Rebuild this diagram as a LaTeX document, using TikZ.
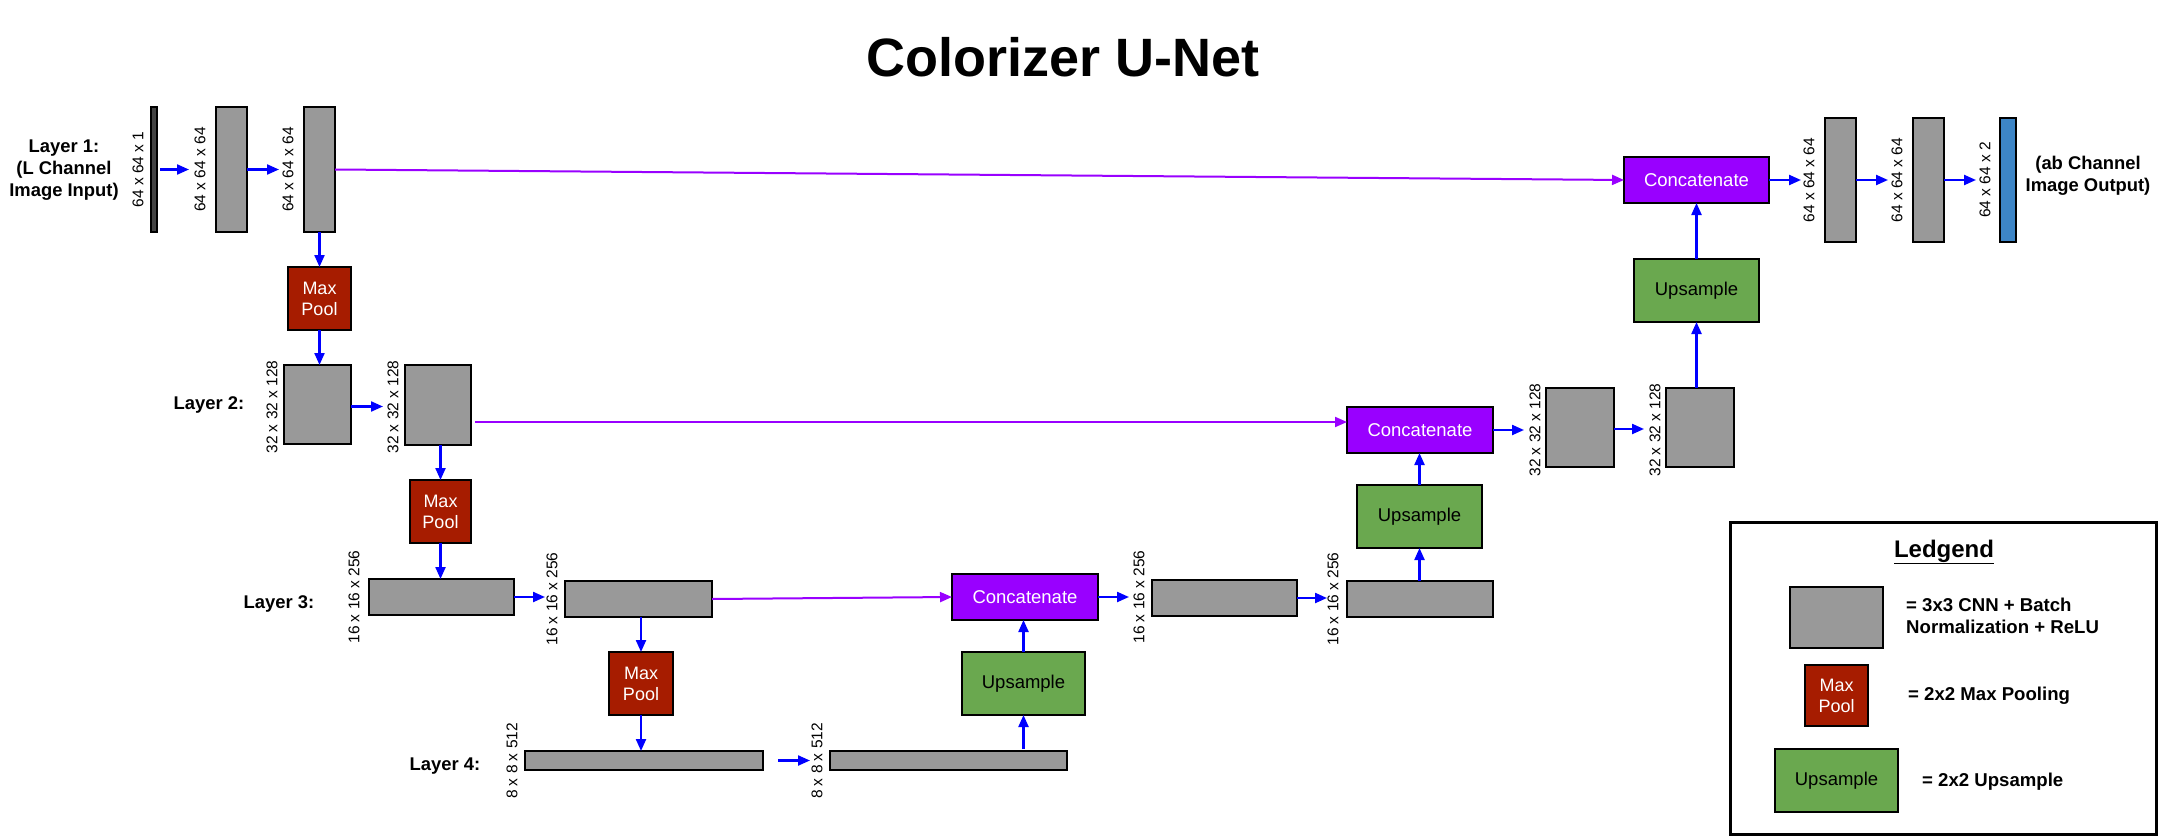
\documentclass[tikz,border=0pt]{standalone}
\usepackage{fontspec}
\setmainfont{Liberation Sans}
\usetikzlibrary{arrows.meta}
\definecolor{cnngray}{HTML}{999999}
\definecolor{inbar}{HTML}{434343}
\definecolor{outbar}{HTML}{3D85C6}
\definecolor{poolred}{HTML}{A61C00}
\definecolor{catpurple}{HTML}{9900FF}
\definecolor{upgreen}{HTML}{6AA84F}
\definecolor{arrblue}{HTML}{0000FF}
\begin{document}
\begin{tikzpicture}[x=1pt,y=-1pt,
  blk/.style={draw=black, line width=1.3pt, inner sep=0pt, outer sep=0pt},
  cnn/.style={blk, fill=cnngray},
  poolbox/.style={blk, fill=poolred, text=white, align=center, font=\fontsize{18}{21}\selectfont, minimum width=63pt, minimum height=63pt},
  catbox/.style={blk, fill=catpurple, text=white, font=\fontsize{18.5}{22}\selectfont, minimum width=146pt, minimum height=46pt},
  upbox/.style={blk, fill=upgreen, text=black, font=\fontsize{18.5}{22}\selectfont, minimum width=124pt, minimum height=63pt},
  dimlabel/.style={rotate=90, inner sep=0pt, font=\fontsize{15.5}{18}\selectfont},
  laylabel/.style={font=\bfseries\fontsize{18.4}{21.7}\selectfont, inner sep=0pt, align=center},
  legtext/.style={font=\bfseries\fontsize{18.6}{22.3}\selectfont, inner sep=0pt, align=left},
  flowarrow/.style={draw=arrblue, line width=2.2pt, -{Triangle[length=12pt,width=10pt]}},
  skipline/.style={draw=catpurple, line width=2pt, -{Triangle[length=12pt,width=10pt]}},
]
\useasboundingbox[fill=white] (0,0) rectangle (2159,837);

% title
\node[anchor=base, inner sep=0pt, font=\bfseries\fontsize{54}{60}\selectfont] (title) at (1063,77) {Colorizer U-Net};

% layer labels
\node[laylabel] (lay1) at (64,170) {Layer 1:\\(L Channel\\Image Input)};
\node[laylabel, anchor=base] (lay2) at (209,409) {Layer 2:};
\node[laylabel, anchor=base] (lay3) at (279,608) {Layer 3:};
\node[laylabel, anchor=base] (lay4) at (445,770) {Layer 4:};
\node[laylabel] (outlab) at (2088,176) {(ab Channel\\Image Output)};

% layer 1 (left)
\node[blk, fill=inbar, minimum width=6pt, minimum height=125pt] (in) at (154,169.5) {};
\node[cnn, minimum width=31pt, minimum height=125pt] (b1) at (231.5,169.5) {};
\node[cnn, minimum width=31pt, minimum height=125pt] (b2) at (319.5,169.5) {};
\node[poolbox] (mp1) at (319.5,298.5) {Max\\Pool};

% layer 2 (left)
\node[cnn, minimum width=67pt, minimum height=79pt] (l2a) at (317.5,404.5) {};
\node[cnn, minimum width=66pt, minimum height=80pt] (l2b) at (438,405) {};
\node[poolbox, minimum width=61pt] (mp2) at (440.5,511.5) {Max\\Pool};

% layer 3 (left)
\node[cnn, minimum width=145pt, minimum height=36pt] (l3a) at (441.5,597) {};
\node[cnn, minimum width=147pt, minimum height=36pt] (l3b) at (638.5,599) {};
\node[poolbox, minimum width=64pt] (mp3) at (641,683.5) {Max\\Pool};

% layer 4
\node[cnn, minimum width=238pt, minimum height=19pt] (l4a) at (644,760.5) {};
\node[cnn, minimum width=237pt, minimum height=19pt] (l4b) at (948.5,760.5) {};

% layer 3 (right)
\node[upbox, minimum width=123pt] (up3) at (1023.5,683.5) {Upsample};
\node[catbox] (cat3) at (1025,597) {Concatenate};
\node[cnn, minimum width=145pt, minimum height=36pt] (r3a) at (1224.5,598) {};
\node[cnn, minimum width=146pt, minimum height=36pt] (r3b) at (1420,599) {};

% layer 2 (right)
\node[upbox, minimum width=125pt] (up2) at (1419.5,516.5) {Upsample};
\node[catbox] (cat2) at (1420,430) {Concatenate};
\node[cnn, minimum width=68pt, minimum height=79pt] (r2a) at (1580,427.5) {};
\node[cnn, minimum width=68pt, minimum height=79pt] (r2b) at (1700,427.5) {};

% layer 1 (right)
\node[upbox, minimum width=125pt] (up1) at (1696.5,290.5) {Upsample};
\node[catbox, minimum width=145pt] (cat1) at (1696.5,180) {Concatenate};
\node[cnn, minimum width=31pt, minimum height=124pt] (r1a) at (1840.5,180) {};
\node[cnn, minimum width=31pt, minimum height=124pt] (r1b) at (1928.5,180) {};
\node[blk, fill=outbar, minimum width=16pt, minimum height=124pt] (out) at (2008,180) {};

% dimension labels
\node[dimlabel] (d-in) at (138,169.5) {64 x 64 x 1};
\node[dimlabel] (d-b1) at (200,169.5) {64 x 64 x 64};
\node[dimlabel] (d-b2) at (288,169.5) {64 x 64 x 64};
\node[dimlabel] (d-l2a) at (272,407) {32 x 32 x 128};
\node[dimlabel] (d-l2b) at (393,407) {32 x 32 x 128};
\node[dimlabel] (d-l3a) at (354,597) {16 x 16 x 256};
\node[dimlabel] (d-l3b) at (552,599) {16 x 16 x 256};
\node[dimlabel] (d-l4a) at (512,761) {8 x 8 x 512};
\node[dimlabel] (d-l4b) at (817,761) {8 x 8 x 512};
\node[dimlabel] (d-r3a) at (1139,597) {16 x 16 x 256};
\node[dimlabel] (d-r3b) at (1333,599) {16 x 16 x 256};
\node[dimlabel] (d-r2a) at (1535,430) {32 x 32 x 128};
\node[dimlabel] (d-r2b) at (1655,430) {32 x 32 x 128};
\node[dimlabel] (d-r1a) at (1809,180) {64 x 64 x 64};
\node[dimlabel] (d-r1b) at (1897,180) {64 x 64 x 64};
\node[dimlabel] (d-out) at (1985,180) {64 x 64 x 2};

% blue flow arrows: horizontal
\draw[flowarrow, shorten <=3pt, shorten >=27pt] (in.east) -- (in.east -| b1.west);
\draw[flowarrow, shorten >=25pt] (b1.east) -- (b1.east -| b2.west);
\draw[flowarrow, shorten >=22pt] ([yshift=-2pt]l2a.east) -- ([yshift=-2pt]l2a.east -| l2b.west);
\draw[flowarrow, shorten >=20pt] (l3a.east) -- (l3a.east -| l3b.west);
\draw[flowarrow, shorten <=15pt, shorten >=20pt] (l4a.east) -- (l4b.west);
\draw[flowarrow, shorten >=23pt] (cat3.east) -- (cat3.east -| r3a.west);
\draw[flowarrow, shorten >=20pt] (r3a.east) -- (r3a.east -| r3b.west);
\draw[flowarrow, shorten >=22pt] (cat2.east) -- (cat2.east -| r2a.west);
\draw[flowarrow, shorten >=22pt] ([yshift=-1.5pt]r2a.east) -- ([yshift=-1.5pt]r2a.east -| r2b.west);
\draw[flowarrow, shorten >=24pt] (cat1.east) -- (cat1.east -| r1a.west);
\draw[flowarrow, shorten >=25pt] (r1a.east) -- (r1b.west);
\draw[flowarrow, shorten >=24pt] (r1b.east) -- (out.west);

% blue flow arrows: vertical
\draw[flowarrow] (b2.south) -- (mp1.north);
\draw[flowarrow] (mp1.south) -- (mp1.south |- l2a.north);
\draw[flowarrow] (mp2.north |- l2b.south) -- (mp2.north);
\draw[flowarrow] (mp2.south) -- (mp2.south |- l3a.north);
\draw[flowarrow] (mp3.north |- l3b.south) -- (mp3.north);
\draw[flowarrow] (mp3.south) -- (mp3.south |- l4a.north);
\draw[flowarrow, shorten <=2pt] (up3.south |- l4b.north) -- (up3.south);
\draw[flowarrow] (up3.north) -- (up3.north |- cat3.south);
\draw[flowarrow] (up2.south |- r3b.north) -- (up2.south);
\draw[flowarrow] (up2.north) -- (up2.north |- cat2.south);
\draw[flowarrow] (up1.south |- r2b.north) -- (up1.south);
\draw[flowarrow] (up1.north) -- (up1.north |- cat1.south);

% purple skip connections
\draw[skipline] (b2.east) -- (cat1.west);
\coordinate (c2in) at ([yshift=8pt]cat2.west);
\draw[skipline] ([xshift=4pt]l2b.east |- c2in) -- (c2in);
\draw[skipline] (l3b.east) -- (cat3.west);

% legend
\draw[line width=3.3pt] (1730.5,522.5) rectangle (2156.5,834.5);
\node[inner sep=0pt, font=\bfseries\fontsize{24}{28}\selectfont] (legtitle) at (1944,552) {\underline{Ledgend}};
\node[cnn, minimum width=93pt, minimum height=61pt] (leg-cnn) at (1836.5,617.5) {};
\node[legtext, anchor=west] (leg-cnn-t) at (1906,616) {= 3x3 CNN + Batch\\Normalization + ReLU};
\node[poolbox, minimum height=61pt] (leg-pool) at (1836.5,695.5) {Max\\Pool};
\node[legtext, anchor=base west] (leg-pool-t) at (1908,700) {= 2x2 Max Pooling};
\node[upbox, minimum width=123pt] (leg-up) at (1836.5,780.5) {Upsample};
\node[legtext, anchor=base west] (leg-up-t) at (1922,786) {= 2x2 Upsample};
\end{tikzpicture}
\end{document}
